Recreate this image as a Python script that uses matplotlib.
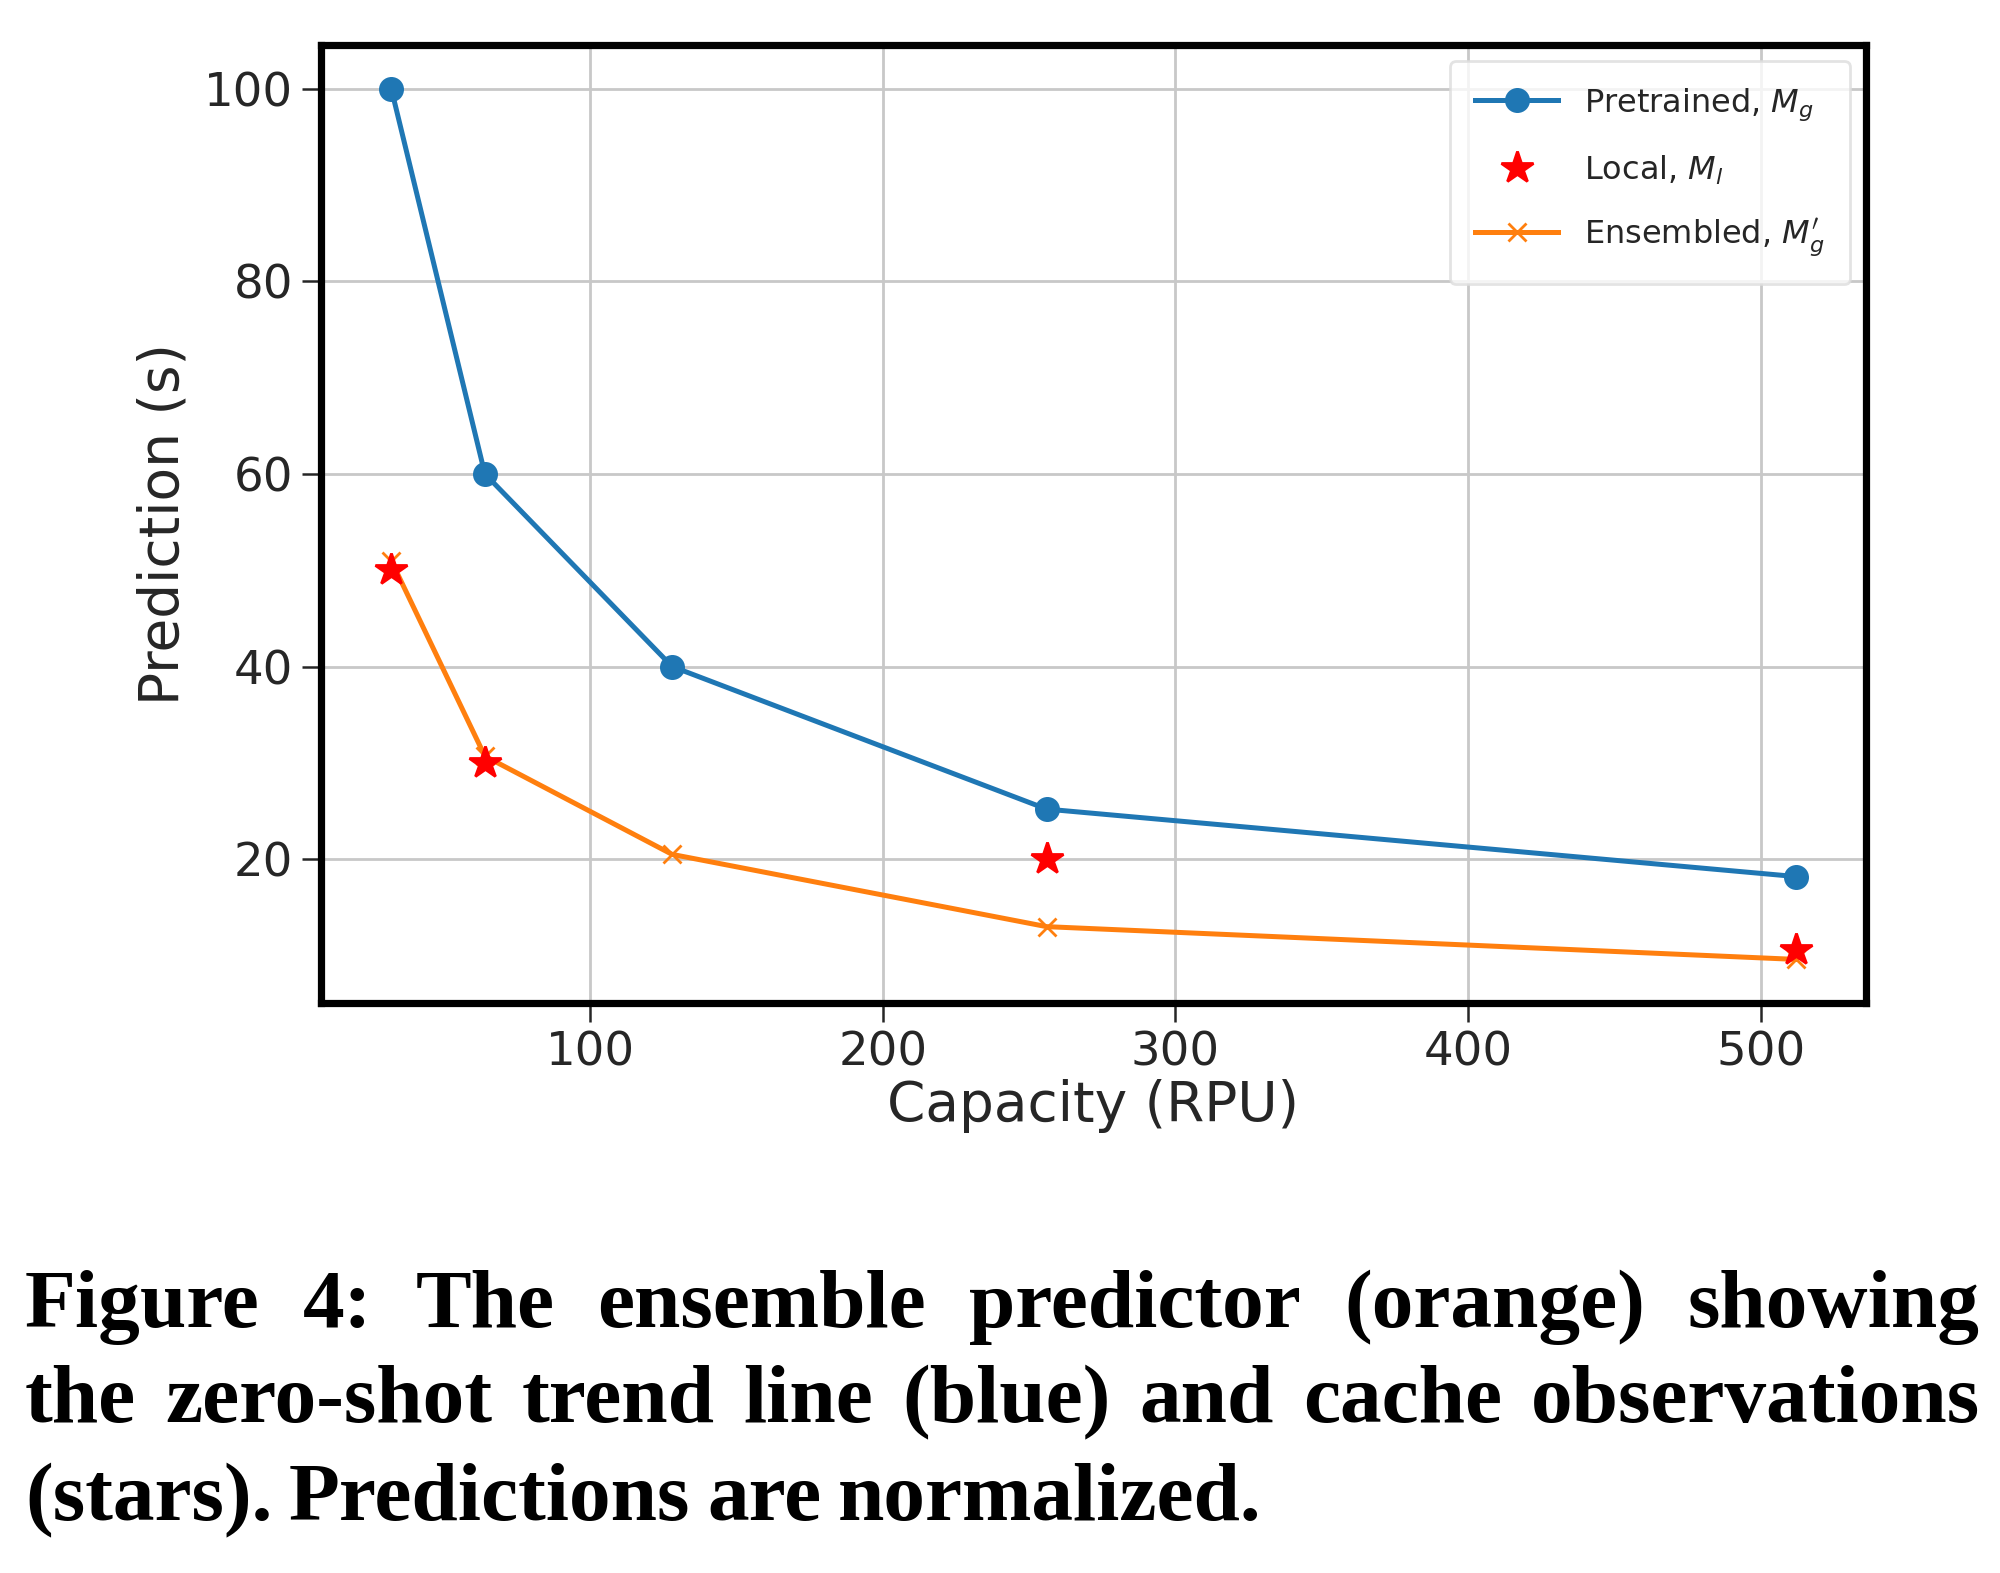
import matplotlib
matplotlib.use("Agg")
import matplotlib.pyplot as plt

# data
capacity = [32, 64, 128, 256, 512]
pretrained = [100, 60, 40, 25.2, 18.2]
ensembled = [51, 30.7, 20.5, 13.0, 9.6]
local_x = [32, 64, 256, 512]
local_y = [50, 30, 20, 10.6]

caption_lines = [
    "Figure 4: The ensemble predictor (orange) showing",
    "the zero-shot trend line (blue) and cache observations",
    "(stars). Predictions are normalized.",
]

txt = "#262626"
fig = plt.figure(figsize=(10, 7.865), dpi=200)
ax = fig.add_axes([0.1605, 0.3624, 0.7725, 0.609])

ax.grid(True, color="#c8c8c8", linewidth=1.0)
ax.set_axisbelow(True)
ax.plot(capacity, pretrained, "-o", color="#1f77b4", lw=1.8, ms=8,
        label=r"Pretrained, $M_g$")
ax.plot(local_x, local_y, "*", color="red", ms=12, ls="none",
        label=r"Local, $M_l$", zorder=3)
ax.plot(capacity, ensembled, "-x", color="#ff7f0e", lw=1.8, ms=6.5,
        label=r"Ensembled, $M_g'$", zorder=2)

ax.set_xticks([100, 200, 300, 400, 500])
ax.set_yticks([20, 40, 60, 80, 100])
for s in ax.spines.values():
    s.set_linewidth(2.6)
    s.set_color("black")
ax.tick_params(direction="out", length=7, width=0.9, color=txt,
               labelsize=16.8, labelcolor=txt, pad=3)
ax.set_xlabel("Capacity (RPU)", fontsize=19.8, color=txt, labelpad=1)
ax.set_ylabel("Prediction (s)", fontsize=19.8, color=txt, labelpad=5)

leg = ax.legend(loc="upper right", fontsize=11.5, frameon=True, fancybox=True,
                framealpha=0.8, edgecolor="#dddddd", labelspacing=0.95,
                handlelength=2.6, borderpad=0.8)
for t in leg.get_texts():
    t.set_color(txt)

# justified caption in a bold serif
renderer = fig.canvas.get_renderer()
W, H = 2000.0, 1573.0
x0, x1 = 25.0, 1980.0
baselines = [1327, 1422, 1520]
cap_font = dict(family="Liberation Serif", weight="bold", color="black")


def word_widths(words, size):
    out = []
    for w in words:
        t = fig.text(0, 0, w, fontsize=size, **cap_font)
        out.append(t.get_window_extent(renderer).width)
        t.remove()
    return out


size = 30.0
for _ in range(20):
    ok = True
    for line in caption_lines[:2]:
        words = line.split()
        ws = word_widths(words, size)
        gap_min = size * 200 / 72 * 0.12
        if sum(ws) + gap_min * (len(words) - 1) > x1 - x0:
            ok = False
    if ok:
        break
    size -= 0.5

for i, line in enumerate(caption_lines):
    words = line.split()
    ws = word_widths(words, size)
    if i < len(caption_lines) - 1:
        gap = (x1 - x0 - sum(ws)) / (len(words) - 1)
    else:
        gap = size * 200 / 72 * 0.2
    x = x0
    for w, wd in zip(words, ws):
        fig.text(x / W, 1 - baselines[i] / H, w, fontsize=size,
                 ha="left", va="baseline", **cap_font)
        x += wd + gap

fig.savefig("out.png", dpi=200, facecolor="white")
